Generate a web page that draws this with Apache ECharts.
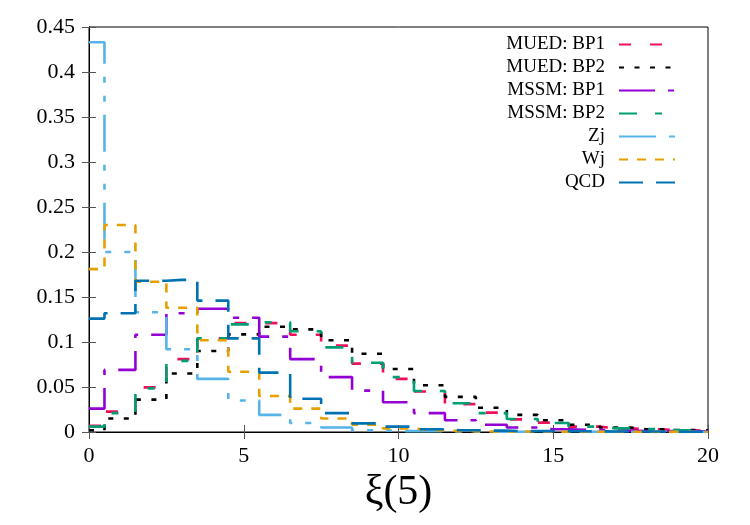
<!DOCTYPE html>
<html>
<head>
<meta charset="utf-8">
<script src="https://cdn.jsdelivr.net/npm/echarts@6/dist/echarts.min.js"></script>
<style>html,body{margin:0;padding:0;background:#fff}#c{width:750px;height:525px}</style>
</head>
<body>
<div id="c"></div>
<script>
// bin centres (xi(5) = 0..20, bin width 1)
const binCentres = [0,1,2,3,4,5,6,7,8,9,10,11,12,13,14,15,16,17,18,19,20];
const seriesNames = ["MUED: BP1","MUED: BP2","MSSM: BP1","MSSM: BP2","Zj","Wj","QCD"];
const muedBP1 = [0.007,0.0226,0.0496,0.081,0.104,0.121,0.121,0.108,0.096,0.076,0.059,0.045,0.031,0.0215,0.014,0.0104,0.006,0.004,0.003,0.002,0.0015];
const muedBP2 = [0.002,0.015,0.036,0.065,0.090,0.1085,0.117,0.114,0.102,0.087,0.070,0.052,0.039,0.027,0.019,0.013,0.008,0.005,0.003,0.0022,0.002];
const mssmBP1 = [0.026,0.069,0.108,0.132,0.137,0.127,0.106,0.081,0.061,0.046,0.033,0.021,0.013,0.008,0.005,0.003,0.0025,0.0015,0.001,0.001,0.0005];
const mssmBP2 = [0.006,0.021,0.0485,0.079,0.104,0.1196,0.122,0.112,0.094,0.077,0.061,0.0456,0.032,0.021,0.0144,0.010,0.006,0.004,0.0033,0.002,0.0015];
const zj      = [0.433,0.200,0.133,0.092,0.059,0.035,0.019,0.010,0.005,0.002,0.001,0.0008,0.0005,0.0003,0.0002,0.0002,0.0001,0.0001,0.0001,0,0];
const wj      = [0.181,0.230,0.167,0.138,0.102,0.067,0.040,0.026,0.015,0.008,0.004,0.002,0.001,0.0005,0.0005,0.0003,0.0002,0.0001,0.0001,0.0001,0];
const qcd     = [0.126,0.132,0.168,0.169,0.146,0.104,0.066,0.037,0.021,0.0096,0.006,0.003,0.002,0.0015,0.001,0.001,0.0008,0.0005,0.0005,0.0003,0.0003];
const xTicks = [0,5,10,15,20];
const yTicks = [0,0.05,0.1,0.15,0.2,0.25,0.3,0.35,0.4,0.45];

const allValues = [muedBP1, muedBP2, mssmBP1, mssmBP2, zj, wj, qcd];
const colors = ["#f0105a","#000000","#9400d3","#009e73","#56b4e9","#e69f00","#0072b2"];
const dashes = [[12,19],[5,10.5],[36,13,6,13],[18,18,7,18],[37,13,6,13,6,13],[9,9],[24,13]];

const FONT = "'Liberation Serif','DejaVu Serif',serif";

const series = allValues.map((vals, i) => ({
  name: seriesNames[i],
  type: 'line',
  step: 'middle',
  symbol: 'none',
  showSymbol: false,
  animation: false,
  data: binCentres.map((x, j) => [x, vals[j]]),
  lineStyle: {color: colors[i], width: 2.6, type: dashes[i], cap: 'butt'},
  itemStyle: {color: colors[i]},
  z: 2 + i
}));

const chart = echarts.init(document.getElementById('c'), null, {renderer: 'canvas'});
const axisCommon = {
  axisLine: {show: true, lineStyle: {color: '#000', width: 1}},
  axisTick: {show: true, inside: true, length: 7, lineStyle: {color: '#555', width: 1}},
  splitLine: {show: false}
};
chart.setOption({
  animation: false,
  backgroundColor: '#fff',
  grid: {left: 89, right: 42, top: 27, bottom: 93, show: true, borderColor: '#000', borderWidth: 1, backgroundColor: 'transparent'},
  legend: {
    orient: 'vertical',
    right: 74, top: 35,
    align: 'right',
    padding: 0,
    itemWidth: 56, itemHeight: 14, itemGap: 4,
    itemStyle: {color: 'rgba(0,0,0,0)', borderColor: 'rgba(0,0,0,0)', borderWidth: 0, opacity: 0},
    textStyle: {fontFamily: FONT, fontSize: 19, color: '#000', padding: [0, 9, 0, 0]},
    data: seriesNames
  },
  xAxis: [
    Object.assign({
      type: 'value', min: xTicks[0], max: xTicks[xTicks.length-1], interval: 5, position: 'bottom',
      axisLabel: {fontFamily: FONT, fontSize: 22, color: '#000', margin: 13},
      name: 'ξ(5)', nameLocation: 'middle', nameGap: 36,
      nameTextStyle: {fontFamily: FONT, fontSize: 42, color: '#000'}
    }, axisCommon),
    Object.assign({
      type: 'value', min: 0, max: 20, interval: 5, position: 'top',
      axisLabel: {show: false}
    }, axisCommon)
  ],
  yAxis: [
    Object.assign({
      type: 'value', min: yTicks[0], max: yTicks[yTicks.length-1], interval: 0.05, position: 'left',
      axisLabel: {fontFamily: FONT, fontSize: 22, color: '#000', margin: 14}
    }, axisCommon),
    Object.assign({
      type: 'value', min: 0, max: 0.45, interval: 0.05, position: 'right',
      axisLabel: {show: false}
    }, axisCommon)
  ],
  series: series
});
</script>
</body>
</html>
